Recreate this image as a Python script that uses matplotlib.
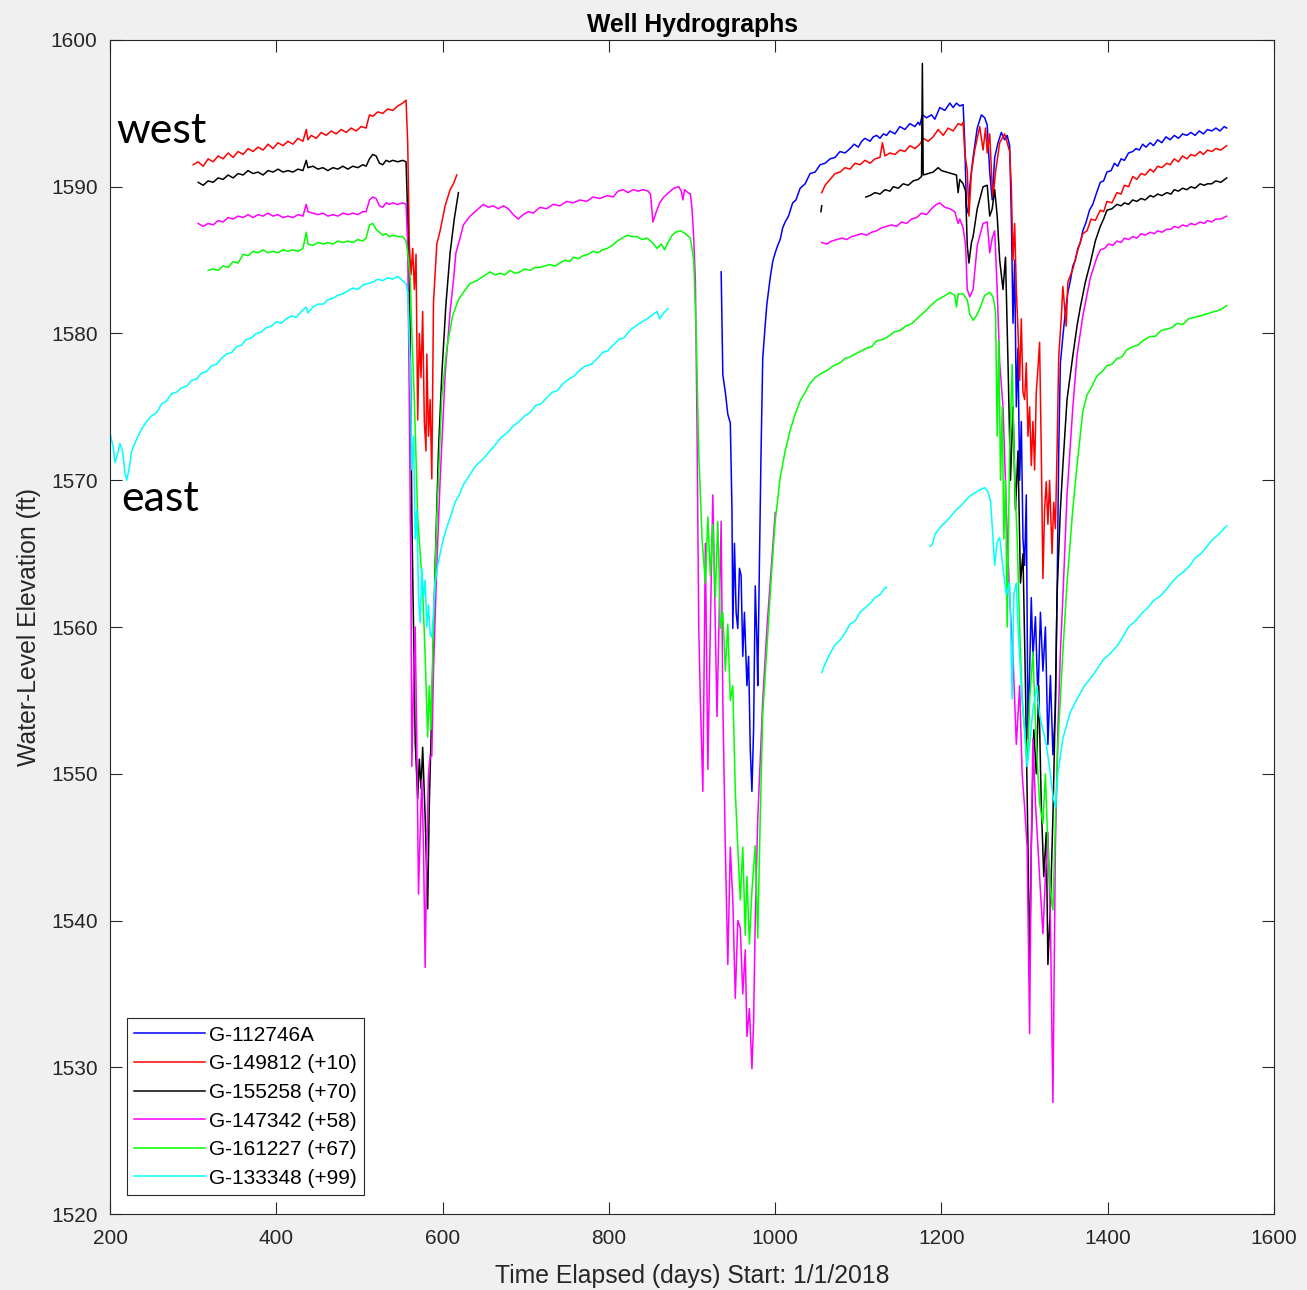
"""
Well Hydrographs - six monitoring wells, offset so they stack west -> east
"""

import numpy as np
import matplotlib.pyplot as plt

# ==========================================================
# DATA  (days elapsed since 1/1/2018, water level in ft)
# ==========================================================

WELLS = ["G-112746A", "G-149812 (+10)", "G-155258 (+70)",
         "G-147342 (+58)", "G-161227 (+67)", "G-133348 (+99)"]

# --- G-112746A ------------------------------------------------------
BLUE_1 = [(935, 1584.2), (937, 1577.2), (940, 1576.0), (943, 1574.5), (946, 1573.9),
          (948, 1568.0), (949, 1559.9), (951, 1565.7), (953, 1561.0), (955, 1559.9),
          (957, 1564.0), (959, 1563.5), (961, 1558.0), (963, 1561.0), (966, 1556.0),
          (968, 1558.0), (970, 1551.7), (972, 1548.8), (974, 1553.0), (976, 1562.8),
          (978, 1559.0), (979, 1556.0), (981, 1564.3), (983, 1572.0), (985, 1578.3),
          (988, 1580.6), (990, 1582.0), (994, 1583.8), (997, 1584.9), (1000, 1585.5),
          (1003, 1586.0), (1006, 1586.4), (1009, 1587.2), (1012, 1587.6), (1016, 1588.0),
          (1021, 1588.9), (1025, 1589.1), (1030, 1589.9), (1036, 1590.2), (1042, 1590.9),
          (1048, 1591.0), (1054, 1591.5), (1060, 1591.6), (1066, 1591.9), (1072, 1592.0),
          (1078, 1592.4), (1084, 1592.3), (1090, 1592.6), (1095, 1592.9), (1100, 1592.7),
          (1104, 1593.1), (1108, 1593.3), (1114, 1593.1), (1118, 1593.4), (1122, 1593.5),
          (1126, 1593.3), (1130, 1593.6), (1134, 1593.5), (1138, 1593.8), (1144, 1593.6),
          (1150, 1594.1), (1156, 1593.9), (1162, 1594.3), (1168, 1594.1), (1172, 1594.4),
          (1174, 1594.2), (1177, 1594.9), (1182, 1594.7), (1188, 1594.9), (1192, 1594.6),
          (1198, 1595.4), (1204, 1595.2), (1210, 1595.7), (1214, 1595.4), (1218, 1595.7),
          (1222, 1595.5), (1226, 1595.6), (1228, 1593.0), (1230, 1588.6), (1232, 1588.2),
          (1234, 1590.0), (1238, 1592.0), (1243, 1594.0), (1248, 1594.9), (1252, 1594.7),
          (1255, 1594.2), (1258, 1591.0), (1261, 1589.1), (1264, 1592.0), (1268, 1593.0),
          (1272, 1593.7), (1276, 1593.2), (1279, 1593.5), (1282, 1592.8), (1284, 1588.0),
          (1286, 1580.7), (1288, 1585.0), (1290, 1575.0), (1292, 1579.0), (1294, 1570.0),
          (1296, 1574.0), (1298, 1566.0), (1300, 1564.2), (1302, 1569.0), (1304, 1552.4),
          (1306, 1557.0), (1308, 1562.0), (1310, 1558.0), (1313, 1560.7), (1316, 1555.0),
          (1319, 1561.0), (1322, 1557.0), (1325, 1560.0), (1328, 1552.0), (1331, 1556.7),
          (1334, 1551.3), (1337, 1554.4), (1339, 1562.0), (1341, 1572.0), (1343, 1578.0),
          (1346, 1579.8), (1349, 1581.5), (1352, 1582.8), (1355, 1583.6), (1358, 1584.6),
          (1361, 1585.0), (1364, 1585.8), (1367, 1586.2), (1370, 1587.0), (1374, 1587.6),
          (1378, 1588.4), (1382, 1588.8), (1386, 1589.5), (1391, 1590.3), (1395, 1590.4),
          (1399, 1591.0), (1404, 1591.1), (1408, 1591.6), (1412, 1591.4), (1416, 1591.9),
          (1420, 1591.8), (1425, 1592.3), (1430, 1592.4), (1434, 1592.6), (1438, 1592.5),
          (1442, 1592.9), (1446, 1592.7), (1451, 1593.0), (1455, 1592.8), (1460, 1593.2),
          (1465, 1593.0), (1470, 1593.4), (1475, 1593.2), (1480, 1593.5), (1485, 1593.3),
          (1490, 1593.6), (1495, 1593.5), (1500, 1593.7), (1505, 1593.5), (1510, 1593.8),
          (1515, 1593.6), (1520, 1593.9), (1525, 1593.8), (1530, 1594.0), (1535, 1593.8),
          (1540, 1594.1), (1543, 1594.0)]

# --- G-149812 (+10) -------------------------------------------------
RED_1 = [(300, 1591.5), (306, 1591.7), (312, 1591.4), (318, 1591.9), (324, 1591.7),
         (330, 1592.1), (336, 1591.9), (342, 1592.3), (348, 1592.0), (354, 1592.4),
         (360, 1592.2), (366, 1592.6), (372, 1592.4), (378, 1592.7), (384, 1592.5),
         (390, 1592.9), (396, 1592.6), (402, 1593.0), (408, 1592.8), (414, 1593.1),
         (420, 1592.9), (426, 1593.3), (432, 1593.1), (436, 1593.9), (438, 1593.2),
         (442, 1593.5), (448, 1593.3), (454, 1593.7), (460, 1593.5), (466, 1593.8),
         (472, 1593.6), (478, 1593.9), (484, 1593.7), (490, 1594.0), (496, 1593.8),
         (502, 1594.1), (508, 1594.0), (512, 1594.9), (516, 1594.8), (522, 1595.1),
         (528, 1595.0), (534, 1595.3), (540, 1595.2), (546, 1595.5), (552, 1595.7),
         (556, 1595.9), (558, 1593.0), (560, 1586.0), (562, 1584.0), (564, 1585.8),
         (566, 1583.0), (568, 1585.4), (570, 1574.1), (572, 1580.0), (574, 1577.0),
         (576, 1581.5), (578, 1574.0), (580, 1572.0), (581, 1578.6), (583, 1573.0),
         (585, 1575.5), (587, 1570.1), (589, 1582.1), (593, 1586.1), (597, 1587.0),
         (603, 1588.7), (609, 1589.8), (613, 1590.2), (617, 1590.8)]
RED_2 = [(1056, 1589.6), (1060, 1590.1), (1066, 1590.5), (1072, 1590.9), (1078, 1591.0),
         (1084, 1591.3), (1090, 1591.2), (1096, 1591.6), (1102, 1591.5), (1108, 1591.8),
         (1114, 1591.6), (1120, 1591.9), (1126, 1592.0), (1129, 1593.0), (1132, 1592.1),
         (1138, 1592.3), (1144, 1592.2), (1150, 1592.5), (1156, 1592.4), (1162, 1592.8),
         (1168, 1592.6), (1174, 1592.9), (1178, 1593.3), (1184, 1593.1), (1190, 1593.4),
         (1196, 1593.9), (1202, 1593.5), (1208, 1594.0), (1214, 1593.8), (1220, 1594.3),
         (1224, 1594.2), (1226, 1594.4), (1228, 1592.3), (1231, 1591.1), (1233, 1588.0),
         (1236, 1591.0), (1240, 1592.5), (1246, 1594.1), (1250, 1592.5), (1253, 1594.0),
         (1255, 1592.3), (1258, 1593.6), (1261, 1590.0), (1262, 1589.3), (1265, 1591.0),
         (1270, 1593.0), (1276, 1593.6), (1279, 1593.0), (1282, 1592.4), (1284, 1590.0),
         (1286, 1585.0), (1288, 1587.5), (1290, 1583.0), (1292, 1580.2), (1294, 1576.8),
         (1296, 1581.0), (1298, 1576.0), (1300, 1575.5), (1302, 1578.0), (1304, 1573.0),
         (1306, 1575.0), (1308, 1571.0), (1310, 1574.0), (1312, 1570.7), (1314, 1576.0),
         (1316, 1577.6), (1318, 1579.4), (1320, 1572.0), (1322, 1563.3), (1324, 1568.0),
         (1326, 1569.9), (1328, 1567.0), (1330, 1570.0), (1333, 1565.0), (1335, 1568.5),
         (1337, 1566.7), (1339, 1572.0), (1341, 1578.4), (1344, 1581.0), (1346, 1583.2),
         (1350, 1580.5), (1352, 1583.5), (1358, 1584.4), (1363, 1585.5), (1370, 1586.8),
         (1375, 1587.0), (1380, 1587.8), (1385, 1587.7), (1391, 1588.4), (1395, 1588.3),
         (1399, 1589.0), (1405, 1588.9), (1411, 1589.6), (1416, 1589.5), (1420, 1590.1),
         (1425, 1590.0), (1430, 1590.7), (1435, 1590.5), (1440, 1590.9), (1445, 1590.8),
         (1451, 1591.2), (1455, 1591.0), (1460, 1591.4), (1465, 1591.3), (1471, 1591.6),
         (1475, 1591.5), (1480, 1591.9), (1485, 1591.7), (1490, 1592.1), (1495, 1591.9),
         (1500, 1592.2), (1505, 1592.1), (1511, 1592.4), (1515, 1592.2), (1520, 1592.5),
         (1525, 1592.4), (1530, 1592.6), (1536, 1592.5), (1543, 1592.8)]

# --- G-155258 (+70) -------------------------------------------------
BLACK_1 = [(306, 1590.3), (312, 1590.1), (318, 1590.4), (324, 1590.3), (330, 1590.6),
           (336, 1590.5), (342, 1590.8), (348, 1590.6), (354, 1590.9), (360, 1590.8),
           (366, 1591.1), (372, 1590.9), (378, 1591.0), (384, 1590.8), (390, 1591.1),
           (396, 1591.0), (402, 1591.2), (408, 1591.0), (414, 1591.1), (420, 1591.0),
           (426, 1591.2), (432, 1591.1), (436, 1591.8), (438, 1591.3), (444, 1591.4),
           (450, 1591.2), (456, 1591.3), (462, 1591.1), (468, 1591.3), (474, 1591.2),
           (480, 1591.4), (486, 1591.2), (492, 1591.4), (498, 1591.3), (504, 1591.5),
           (508, 1591.4), (512, 1591.9), (516, 1592.2), (520, 1592.1), (524, 1591.6),
           (528, 1591.5), (532, 1591.8), (536, 1591.7), (540, 1591.8), (546, 1591.7),
           (552, 1591.8), (556, 1591.7), (558, 1588.0), (561, 1580.0), (563, 1567.5),
           (565, 1560.0), (567, 1552.2), (570, 1548.3), (572, 1551.0), (574, 1549.0),
           (576, 1551.8), (579, 1547.0), (582, 1540.8), (584, 1548.0), (587, 1554.5),
           (591, 1564.2), (595, 1572.0), (599, 1577.2), (604, 1582.0), (609, 1585.5),
           (614, 1587.8), (619, 1589.6)]
BLACK_2 = [(1055, 1588.3), (1056, 1588.7)]
BLACK_3 = [(1109, 1589.3), (1114, 1589.4), (1120, 1589.6), (1126, 1589.5), (1132, 1589.8),
           (1138, 1589.7), (1142, 1590.0), (1148, 1589.9), (1154, 1590.2), (1160, 1590.1),
           (1166, 1590.4), (1172, 1590.5), (1176, 1590.7), (1177, 1598.4), (1178, 1590.8),
           (1184, 1590.9), (1190, 1591.0), (1196, 1591.3), (1200, 1591.1), (1206, 1591.0),
           (1212, 1590.9), (1218, 1590.8), (1220, 1589.6), (1222, 1590.5), (1226, 1590.2),
           (1229, 1589.7), (1231, 1586.0), (1233, 1584.8), (1236, 1586.2), (1238, 1586.6),
           (1243, 1588.5), (1250, 1590.0), (1255, 1590.1), (1258, 1588.0), (1261, 1588.5),
           (1264, 1589.8), (1267, 1588.0), (1270, 1585.0), (1274, 1583.0), (1277, 1585.2),
           (1280, 1578.0), (1283, 1570.0), (1286, 1575.0), (1289, 1568.0), (1292, 1572.0),
           (1295, 1563.0), (1298, 1565.0), (1301, 1556.0), (1304, 1545.0), (1306, 1536.8),
           (1308, 1545.0), (1311, 1553.0), (1314, 1550.0), (1317, 1556.0), (1320, 1548.0),
           (1323, 1543.0), (1326, 1546.0), (1328, 1537.0), (1331, 1541.0), (1334, 1547.0),
           (1337, 1555.0), (1339, 1562.2), (1343, 1568.0), (1346, 1571.0), (1351, 1575.5),
           (1358, 1578.5), (1363, 1580.5), (1367, 1581.8), (1373, 1583.5), (1379, 1584.8),
           (1385, 1586.3), (1391, 1587.3), (1395, 1587.8), (1399, 1588.4), (1405, 1588.5),
           (1411, 1588.8), (1416, 1588.7), (1420, 1588.9), (1425, 1588.8), (1430, 1589.1),
           (1435, 1589.0), (1440, 1589.2), (1445, 1589.1), (1451, 1589.4), (1455, 1589.3),
           (1460, 1589.5), (1465, 1589.4), (1471, 1589.6), (1476, 1589.5), (1480, 1589.8),
           (1485, 1589.7), (1490, 1589.9), (1495, 1589.8), (1500, 1590.0), (1505, 1589.9),
           (1511, 1590.2), (1516, 1590.1), (1520, 1590.2), (1525, 1590.2), (1530, 1590.4),
           (1536, 1590.3), (1543, 1590.6)]

# --- G-147342 (+58) -------------------------------------------------
MAGENTA_1 = [(306, 1587.5), (312, 1587.3), (318, 1587.5), (324, 1587.4), (330, 1587.7),
             (336, 1587.6), (342, 1587.9), (348, 1587.8), (354, 1588.0), (360, 1587.9),
             (366, 1588.1), (372, 1587.9), (378, 1588.1), (384, 1588.0), (390, 1588.2),
             (396, 1588.0), (402, 1588.1), (408, 1587.9), (414, 1588.0), (420, 1587.9),
             (426, 1588.1), (432, 1588.0), (436, 1588.8), (438, 1588.3), (444, 1588.2),
             (450, 1588.1), (456, 1588.2), (462, 1588.0), (468, 1588.1), (474, 1588.0),
             (480, 1588.2), (486, 1588.1), (492, 1588.2), (498, 1588.1), (504, 1588.3),
             (508, 1588.3), (512, 1589.1), (516, 1589.3), (520, 1589.2), (524, 1588.7),
             (528, 1588.6), (532, 1588.9), (536, 1588.8), (540, 1588.9), (546, 1588.8),
             (552, 1588.9), (556, 1588.8), (558, 1586.0), (560, 1575.0), (562, 1562.0),
             (563, 1550.5), (565, 1556.0), (567, 1560.0), (569, 1552.0), (571, 1541.8),
             (573, 1546.0), (575, 1549.6), (577, 1545.0), (579, 1536.8), (581, 1545.0),
             (583, 1550.0), (585, 1551.2), (587, 1551.2), (589, 1557.0), (593, 1564.2),
             (597, 1570.0), (603, 1577.2), (609, 1581.5), (613, 1583.6), (616, 1585.5),
             (620, 1586.3), (625, 1587.4), (633, 1588.0), (641, 1588.4), (649, 1588.8),
             (655, 1588.6), (661, 1588.7), (667, 1588.5), (673, 1588.7), (679, 1588.5),
             (685, 1588.1), (691, 1587.8), (697, 1588.1), (703, 1588.3), (709, 1588.2),
             (717, 1588.6), (725, 1588.5), (733, 1588.8), (741, 1588.7), (749, 1589.0),
             (757, 1588.9), (765, 1589.1), (773, 1589.0), (781, 1589.3), (789, 1589.2),
             (798, 1589.4), (805, 1589.3), (811, 1589.7), (817, 1589.8), (823, 1589.6),
             (829, 1589.8), (835, 1589.7), (841, 1589.8), (847, 1589.7), (850, 1589.5),
             (853, 1587.6), (857, 1588.3), (861, 1588.9), (866, 1589.3), (872, 1589.6),
             (878, 1589.9), (884, 1590.0), (887, 1589.7), (889, 1589.1), (891, 1589.8),
             (895, 1589.6), (898, 1589.5), (900, 1588.5), (902, 1586.5), (904, 1583.6),
             (906, 1573.5), (908, 1560.0), (910, 1555.0), (913, 1548.8), (916, 1565.7),
             (919, 1550.3), (922, 1560.0), (925, 1569.0), (928, 1560.0), (930, 1553.9),
             (933, 1562.0), (935, 1567.2), (937, 1555.0), (940, 1545.0), (943, 1537.0),
             (946, 1545.0), (949, 1541.4), (952, 1534.7), (955, 1540.0), (958, 1539.5),
             (961, 1535.0), (964, 1538.0), (966, 1532.1), (969, 1534.0), (972, 1529.9),
             (974, 1533.0), (976, 1540.0), (979, 1546.9), (985, 1555.0), (990, 1559.9),
             (1000, 1567.8)]
MAGENTA_2 = [(1056, 1586.2), (1062, 1586.1), (1068, 1586.3), (1074, 1586.4), (1080, 1586.5),
             (1086, 1586.4), (1092, 1586.6), (1098, 1586.7), (1104, 1586.8), (1110, 1586.7),
             (1116, 1586.9), (1122, 1587.0), (1128, 1587.2), (1134, 1587.3), (1140, 1587.4),
             (1146, 1587.3), (1152, 1587.6), (1158, 1587.5), (1164, 1587.8), (1170, 1587.9),
             (1176, 1588.2), (1182, 1588.1), (1188, 1588.5), (1194, 1588.8), (1198, 1588.9),
             (1204, 1588.6), (1210, 1588.5), (1216, 1588.3), (1220, 1587.5), (1222, 1587.8),
             (1226, 1587.2), (1229, 1586.0), (1231, 1583.0), (1234, 1582.5), (1238, 1583.0),
             (1243, 1586.0), (1250, 1587.5), (1255, 1587.6), (1258, 1585.5), (1261, 1586.5),
             (1264, 1587.0), (1267, 1583.0), (1270, 1578.0), (1274, 1575.0), (1278, 1568.0),
             (1282, 1562.0), (1286, 1558.0), (1290, 1552.0), (1294, 1556.0), (1297, 1550.0),
             (1300, 1547.7), (1303, 1545.0), (1306, 1532.3), (1308, 1545.0), (1310, 1552.4),
             (1313, 1548.0), (1316, 1545.0), (1319, 1542.0), (1322, 1539.1), (1325, 1543.0),
             (1328, 1546.0), (1331, 1540.0), (1334, 1527.6), (1337, 1545.0), (1340, 1553.0),
             (1343, 1558.3), (1346, 1562.0), (1351, 1569.0), (1358, 1575.0), (1363, 1578.5),
             (1370, 1581.2), (1379, 1583.8), (1387, 1585.2), (1391, 1585.7), (1396, 1585.8),
             (1401, 1586.1), (1406, 1586.0), (1411, 1586.3), (1416, 1586.2), (1420, 1586.5),
             (1425, 1586.4), (1430, 1586.6), (1435, 1586.5), (1440, 1586.8), (1445, 1586.7),
             (1451, 1586.9), (1456, 1586.8), (1460, 1587.0), (1465, 1586.9), (1471, 1587.1),
             (1476, 1587.1), (1480, 1587.3), (1485, 1587.2), (1490, 1587.4), (1495, 1587.3),
             (1500, 1587.5), (1505, 1587.4), (1511, 1587.6), (1516, 1587.5), (1520, 1587.7),
             (1525, 1587.6), (1530, 1587.8), (1536, 1587.8), (1543, 1588.0)]

# --- G-161227 (+67) -------------------------------------------------
GREEN_1 = [(318, 1584.3), (324, 1584.4), (330, 1584.3), (336, 1584.6), (342, 1584.5),
           (348, 1584.9), (354, 1584.8), (360, 1585.4), (366, 1585.3), (372, 1585.6),
           (378, 1585.5), (384, 1585.7), (390, 1585.5), (396, 1585.6), (402, 1585.5),
           (408, 1585.7), (414, 1585.6), (420, 1585.7), (426, 1585.6), (432, 1585.8),
           (436, 1586.9), (438, 1586.1), (444, 1586.0), (450, 1586.2), (456, 1586.1),
           (462, 1586.2), (468, 1586.1), (474, 1586.3), (480, 1586.2), (486, 1586.3),
           (492, 1586.2), (498, 1586.4), (504, 1586.3), (508, 1586.5), (512, 1587.4),
           (516, 1587.5), (520, 1587.1), (524, 1586.9), (528, 1586.7), (532, 1586.8),
           (536, 1586.6), (540, 1586.7), (546, 1586.6), (552, 1586.6), (556, 1586.3),
           (558, 1585.5), (561, 1583.8), (563, 1580.0), (566, 1575.5), (570, 1567.5),
           (573, 1565.0), (576, 1562.6), (579, 1558.0), (582, 1552.5), (584, 1556.0),
           (586, 1553.0), (588, 1558.0), (593, 1567.5), (599, 1575.7), (605, 1579.0),
           (612, 1581.2), (619, 1582.3), (625, 1582.8), (633, 1583.4), (641, 1583.6),
           (649, 1583.9), (657, 1584.2), (663, 1584.0), (669, 1584.1), (675, 1584.0),
           (681, 1584.3), (687, 1584.1), (693, 1584.2), (699, 1584.4), (705, 1584.3),
           (711, 1584.5), (717, 1584.5), (723, 1584.6), (729, 1584.7), (735, 1584.6),
           (741, 1584.8), (747, 1585.0), (753, 1584.9), (757, 1585.2), (763, 1585.1),
           (769, 1585.3), (775, 1585.4), (781, 1585.6), (787, 1585.5), (792, 1585.7),
           (798, 1585.8), (804, 1586.0), (810, 1586.3), (816, 1586.5), (822, 1586.7),
           (828, 1586.6), (834, 1586.6), (840, 1586.4), (846, 1586.5), (852, 1586.2),
           (858, 1585.8), (863, 1586.1), (867, 1585.7), (872, 1586.3), (876, 1586.7),
           (880, 1586.9), (886, 1587.0), (892, 1586.8), (898, 1586.5), (902, 1585.0),
           (905, 1580.0), (908, 1572.0), (912, 1566.0), (916, 1563.0), (919, 1567.5),
           (922, 1563.5), (925, 1567.0), (928, 1562.0), (931, 1567.2), (934, 1559.9),
           (937, 1561.0), (940, 1557.0), (943, 1560.2), (946, 1555.0), (949, 1556.0),
           (952, 1548.8), (955, 1545.0), (958, 1541.4), (961, 1545.0), (964, 1539.0),
           (966, 1543.0), (969, 1538.4), (972, 1542.0), (976, 1545.1), (979, 1538.8),
           (982, 1547.0), (985, 1554.0), (990, 1558.5), (996, 1564.0), (1000, 1567.2),
           (1006, 1570.2), (1012, 1572.0), (1018, 1573.4), (1024, 1574.5), (1030, 1575.4),
           (1036, 1576.0), (1042, 1576.6), (1048, 1577.0), (1056, 1577.3), (1063, 1577.5),
           (1070, 1577.8), (1078, 1578.0), (1084, 1578.3), (1090, 1578.4), (1096, 1578.6),
           (1103, 1578.8), (1110, 1579.0), (1116, 1579.1), (1122, 1579.5), (1130, 1579.6),
           (1136, 1579.8), (1143, 1580.1), (1150, 1580.2), (1157, 1580.5), (1165, 1580.7),
           (1172, 1581.1), (1180, 1581.5), (1187, 1581.9), (1195, 1582.3), (1202, 1582.5),
           (1210, 1582.8), (1216, 1582.6), (1218, 1581.8), (1220, 1582.7), (1226, 1582.7),
           (1231, 1582.3), (1234, 1581.3), (1238, 1580.9), (1242, 1581.2), (1246, 1581.7),
           (1252, 1582.6), (1258, 1582.8), (1262, 1582.5), (1265, 1581.5), (1267, 1573.0),
           (1269, 1579.5), (1271, 1570.0), (1273, 1575.0), (1275, 1566.0), (1277, 1570.0),
           (1279, 1560.0), (1282, 1572.0), (1285, 1577.9), (1288, 1570.0), (1291, 1566.1),
           (1294, 1560.0), (1297, 1555.0), (1300, 1553.0), (1303, 1550.5), (1306, 1555.0),
           (1310, 1558.3), (1314, 1552.0), (1318, 1548.0), (1322, 1546.6), (1325, 1550.0),
           (1328, 1545.0), (1331, 1542.0), (1334, 1540.7), (1337, 1546.6), (1340, 1552.0),
           (1346, 1558.3), (1351, 1563.0), (1358, 1568.1), (1363, 1571.0), (1370, 1574.7),
           (1375, 1575.8), (1380, 1576.3), (1387, 1577.1), (1393, 1577.4), (1399, 1577.8),
           (1405, 1577.9), (1411, 1578.3), (1417, 1578.4), (1423, 1578.9), (1430, 1579.1),
           (1436, 1579.2), (1442, 1579.5), (1451, 1579.8), (1457, 1579.8), (1464, 1580.2),
           (1471, 1580.3), (1477, 1580.4), (1484, 1580.7), (1490, 1580.6), (1497, 1581.0),
           (1504, 1581.1), (1511, 1581.2), (1517, 1581.3), (1523, 1581.4), (1528, 1581.5),
           (1535, 1581.6), (1543, 1581.9)]

# --- G-133348 (+99) -------------------------------------------------
CYAN_1 = [(200, 1573.2), (204, 1572.2), (206, 1571.2), (209, 1571.8), (212, 1572.5),
          (215, 1572.0), (218, 1570.5), (220, 1570.0), (223, 1570.8), (226, 1572.0),
          (232, 1572.8), (238, 1573.5), (244, 1574.0), (250, 1574.4), (256, 1574.6),
          (262, 1575.2), (268, 1575.4), (274, 1575.9), (280, 1576.0), (286, 1576.3),
          (292, 1576.4), (298, 1576.8), (304, 1576.9), (310, 1577.3), (316, 1577.4),
          (322, 1577.8), (328, 1577.9), (334, 1578.3), (340, 1578.6), (346, 1578.7),
          (352, 1579.1), (358, 1579.2), (364, 1579.6), (370, 1579.7), (376, 1580.0),
          (382, 1580.1), (388, 1580.4), (394, 1580.5), (400, 1580.8), (406, 1580.7),
          (412, 1581.0), (418, 1581.2), (424, 1581.1), (430, 1581.5), (436, 1581.8),
          (438, 1581.4), (444, 1581.8), (450, 1582.0), (456, 1582.0), (462, 1582.3),
          (468, 1582.4), (474, 1582.6), (480, 1582.7), (486, 1582.9), (492, 1583.1),
          (498, 1583.0), (504, 1583.3), (510, 1583.4), (516, 1583.5), (522, 1583.7),
          (528, 1583.6), (534, 1583.8), (540, 1583.7), (546, 1583.9), (552, 1583.6),
          (556, 1583.4), (558, 1582.8), (561, 1578.0), (563, 1570.7), (565, 1573.0),
          (567, 1566.0), (569, 1568.0), (571, 1562.0), (573, 1560.3), (575, 1564.0),
          (577, 1562.0), (579, 1563.2), (581, 1560.0), (583, 1561.5), (585, 1559.5),
          (587, 1559.3), (589, 1561.0), (591, 1563.0), (594, 1564.2), (600, 1565.8),
          (605, 1566.8), (610, 1567.6), (615, 1568.5), (620, 1569.0), (625, 1569.7),
          (632, 1570.3), (640, 1571.0), (648, 1571.4), (657, 1572.0), (663, 1572.4),
          (670, 1572.9), (677, 1573.2), (685, 1573.7), (692, 1574.0), (699, 1574.4),
          (705, 1574.6), (712, 1575.1), (718, 1575.2), (725, 1575.6), (732, 1576.0),
          (738, 1576.1), (745, 1576.6), (752, 1576.9), (758, 1577.1), (765, 1577.5),
          (772, 1577.8), (779, 1577.9), (786, 1578.3), (792, 1578.7), (798, 1578.8),
          (805, 1579.2), (812, 1579.6), (818, 1579.7), (825, 1580.2), (832, 1580.5),
          (840, 1580.8), (846, 1581.0), (853, 1581.3), (858, 1581.5), (861, 1581.0),
          (866, 1581.4), (871, 1581.7)]
CYAN_2 = [(1056, 1556.9), (1060, 1557.5), (1066, 1558.2), (1072, 1558.8), (1078, 1559.1),
          (1084, 1559.6), (1090, 1560.2), (1096, 1560.4), (1102, 1561.0), (1108, 1561.3),
          (1114, 1561.6), (1120, 1562.0), (1126, 1562.2), (1131, 1562.6), (1134, 1562.7)]
CYAN_3 = [(1186, 1565.5), (1189, 1565.6), (1192, 1566.3), (1196, 1566.6), (1200, 1566.9),
          (1206, 1567.2), (1212, 1567.6), (1218, 1568.0), (1224, 1568.3), (1230, 1568.7),
          (1236, 1569.0), (1242, 1569.2), (1248, 1569.4), (1252, 1569.5), (1256, 1569.2),
          (1259, 1568.6), (1262, 1566.0), (1264, 1564.2), (1267, 1565.8), (1270, 1566.1),
          (1274, 1564.0), (1278, 1562.2), (1282, 1563.0), (1285, 1555.1), (1287, 1562.2),
          (1290, 1563.0), (1292, 1560.0), (1296, 1556.0), (1300, 1553.0), (1303, 1550.5),
          (1306, 1552.0), (1310, 1554.4), (1315, 1556.0), (1318, 1554.0), (1322, 1553.0),
          (1326, 1552.0), (1331, 1550.0), (1334, 1548.5), (1337, 1547.7), (1340, 1550.0),
          (1346, 1552.4), (1355, 1554.2), (1363, 1555.1), (1372, 1556.0), (1382, 1556.7),
          (1395, 1557.8), (1403, 1558.2), (1411, 1558.7), (1418, 1559.3), (1425, 1560.0),
          (1433, 1560.4), (1442, 1561.0), (1448, 1561.3), (1455, 1561.8), (1463, 1562.1),
          (1471, 1562.6), (1478, 1563.1), (1485, 1563.5), (1492, 1563.8), (1499, 1564.2),
          (1505, 1564.7), (1512, 1565.0), (1518, 1565.4), (1525, 1565.9), (1533, 1566.3),
          (1543, 1566.9)]

SEGMENTS = [[BLUE_1], [RED_1, RED_2], [BLACK_1, BLACK_2, BLACK_3],
            [MAGENTA_1, MAGENTA_2], [GREEN_1], [CYAN_1, CYAN_2, CYAN_3]]
COLORS = ["#0000ff", "#ff0000", "#000000", "#ff00ff", "#00ff00", "#00ffff"]


# ==========================================================
# PLOT
# ==========================================================

plt.rcParams["font.family"] = ["Liberation Sans", "DejaVu Sans"]

fig = plt.figure(figsize=(13.07, 12.90), dpi=100, facecolor="#f0f0f0")
ax = fig.add_axes([0.0842, 0.0589, 0.8906, 0.9101])

for name, segs, col in zip(WELLS, SEGMENTS, COLORS):
    for i, seg in enumerate(segs):
        d, h = np.array(seg).T
        ax.plot(d, h, color=col, lw=1.1, label=name if i == 0 else None)

ax.set_xlim(200, 1600)
ax.set_ylim(1520, 1600)
ax.set_xticks(np.arange(200, 1601, 200))
ax.set_yticks(np.arange(1520, 1601, 10))

ax.tick_params(direction="in", top=True, right=True, length=8.5, width=0.8,
               labelsize=15, colors="#262626")
ax.tick_params(axis="x", pad=11)
ax.tick_params(axis="y", pad=9)
for sp in ax.spines.values():
    sp.set_color("#262626")
    sp.set_linewidth(0.8)

ax.set_title("Well Hydrographs", fontsize=17.8, fontweight="bold", pad=6)
ax.set_xlabel("Time Elapsed (days) Start: 1/1/2018", fontsize=17.8,
              color="#262626", labelpad=11)
ax.set_ylabel("Water-Level Elevation (ft)", fontsize=17.8,
              color="#262626", labelpad=7)

ax.text(208, 1593.0, "west", fontsize=31, family=["Lato", "DejaVu Sans"])
ax.text(213, 1567.9, "east", fontsize=31, family=["Lato", "DejaVu Sans"])

leg = ax.legend(loc="lower left", bbox_to_anchor=(0.0146, 0.0162),
                fontsize=15, handlelength=3.4, handletextpad=0.2,
                labelspacing=0.46, borderpad=0.35, borderaxespad=0,
                fancybox=False, framealpha=1, edgecolor="#262626")
leg.get_frame().set_linewidth(0.8)

fig.savefig("out.png", dpi=100, facecolor=fig.get_facecolor())
